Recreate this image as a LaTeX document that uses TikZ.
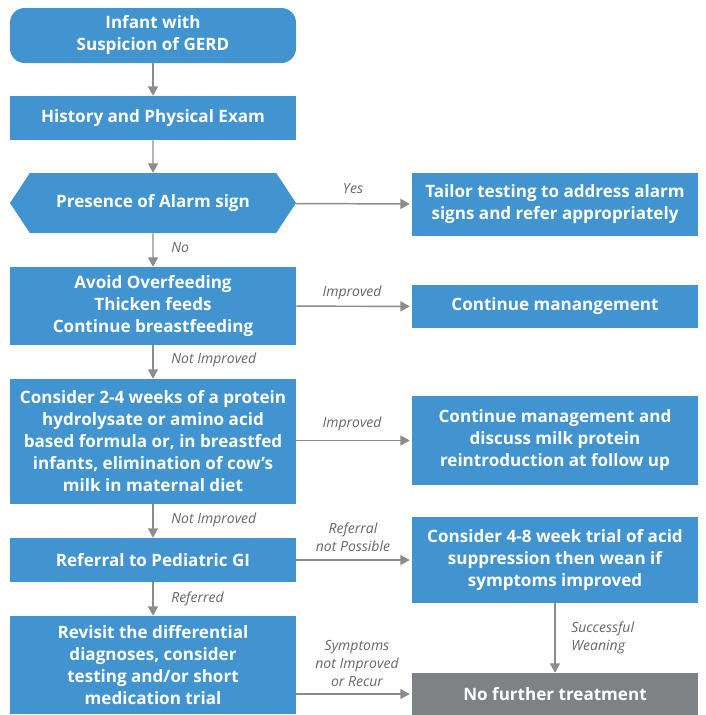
\documentclass[tikz,border=0pt]{standalone}
\usepackage{fontspec}
\setmainfont{Open Sans}
\usetikzlibrary{arrows.meta,shapes.symbols,positioning}
\definecolor{boxblue}{HTML}{4194D0}
\definecolor{boxgrey}{HTML}{808184}
\definecolor{lnkgrey}{HTML}{8C8C8C}
\definecolor{lblgrey}{HTML}{666666}
\tikzset{
  bx/.style={rectangle,fill=boxblue,text=white,minimum width=214.5pt,inner sep=0pt,
    align=center,font=\fontsize{12.8}{16.5}\selectfont\bfseries},
  bxg/.style={bx,fill=boxgrey},
  bxr/.style={bx,rounded corners=11pt},
  ask/.style={bx,signal,signal to=west and east,signal pointer angle=113},
  ht/.style={minimum height=#1*0.75pt},
  arr/.style={-{Triangle[length=7pt,width=7.5pt]},draw=lnkgrey,line width=1.1pt},
  lbl/.style={font=\fontsize{10.5}{13.5}\selectfont\itshape,text=lblgrey,align=center,inner sep=0pt},
}

\begin{document}
\begin{tikzpicture}[x=0.75pt,y=-0.75pt]
\useasboundingbox (0,0) rectangle (706,715);
% ----------------------------- left column
\node[bxr,ht=55] (start) at (153,35.5) {Infant with\\ Suspicion of GERD};
\node[bx,ht=44] (hist) at (153,118) {History and Physical Exam};
\node[ask,ht=60] (alarm) at (153,203) {Presence of Alarm sign};
\node[bx,ht=78] (avoid) at (153,306) {Avoid Overfeeding\\ Thicken feeds\\ Continue breastfeeding};
\node[bx,ht=125] (prot) at (153,441.5) {Consider 2-4 weeks of a protein\\ hydrolysate or amino acid\\
  based formula or, in breastfed\\ infants, elimination of cow’s\\ milk in maternal diet};
\node[bx,ht=44] (refer) at (153,560) {Referral to Pediatric GI};
\node[bx,ht=98] (revisit) at (153,665) {Revisit the differential\\ diagnoses, consider\\
  testing and/or short\\ medication trial};
% ----------------------------- right column
\node[bx,ht=63] (tailor) at (555,204.5) {Tailor testing to address alarm\\ signs and refer appropriately};
\node[bx,ht=43] (cont) at (555,306.5) {Continue manangement};
\node[bx,ht=89] (disc) at (555,440.5) {Continue management and\\ discuss milk protein\\
  reintroduction at follow up};
\node[bx,ht=86] (acid) at (555,560) {Consider 4-8 week trial of acid\\ suppression then wean if\\
  symptoms improved};
\node[bxg,ht=42] (none) at (555,694) {No further treatment};
% ----------------------------- down the middle
\draw[arr] (start) -- (hist);
\draw[arr] (hist) -- (alarm);
\draw[arr] (alarm) -- (avoid);
\draw[arr] (avoid) -- (prot);
\draw[arr] (prot) -- (refer);
\draw[arr] (refer) -- (revisit);
\draw[arr] (acid) -- (none);
% ----------------------------- across
\draw[arr,shorten >=1.5pt] (alarm) -- (tailor);
\draw[arr,shorten >=1.5pt] (avoid) -- (cont);
\draw[arr,shorten >=1.5pt] (prot.east |- disc) -- (disc);
\draw[arr,shorten >=1.5pt] (refer) -- (acid);
\draw[arr,shorten >=1.5pt] (revisit.east |- none) -- (none);
% ----------------------------- labels
\node[lbl] (lyes) at (353,189) {Yes};
\node[lbl,anchor=west] (lno) at (171,248) {No};
\node[lbl] (limp1) at (352,293) {Improved};
\node[lbl,anchor=west] (lnot1) at (171,360) {Not Improved};
\node[lbl] (limp2) at (352,424) {Improved};
\node[lbl,anchor=west] (lnot2) at (171,520) {Not Improved};
\node[lbl] (lnopos) at (353,537) {Referral\\ not Possible};
\node[lbl,anchor=west] (lref) at (171,599) {Referred};
\node[lbl] (lrecur) at (357,663) {Symptoms\\ not Improved\\ or Recur};
\node[lbl,align=left,anchor=west] (lwean) at (571,638) {Successful\\ Weaning};
\end{tikzpicture}
\end{document}
